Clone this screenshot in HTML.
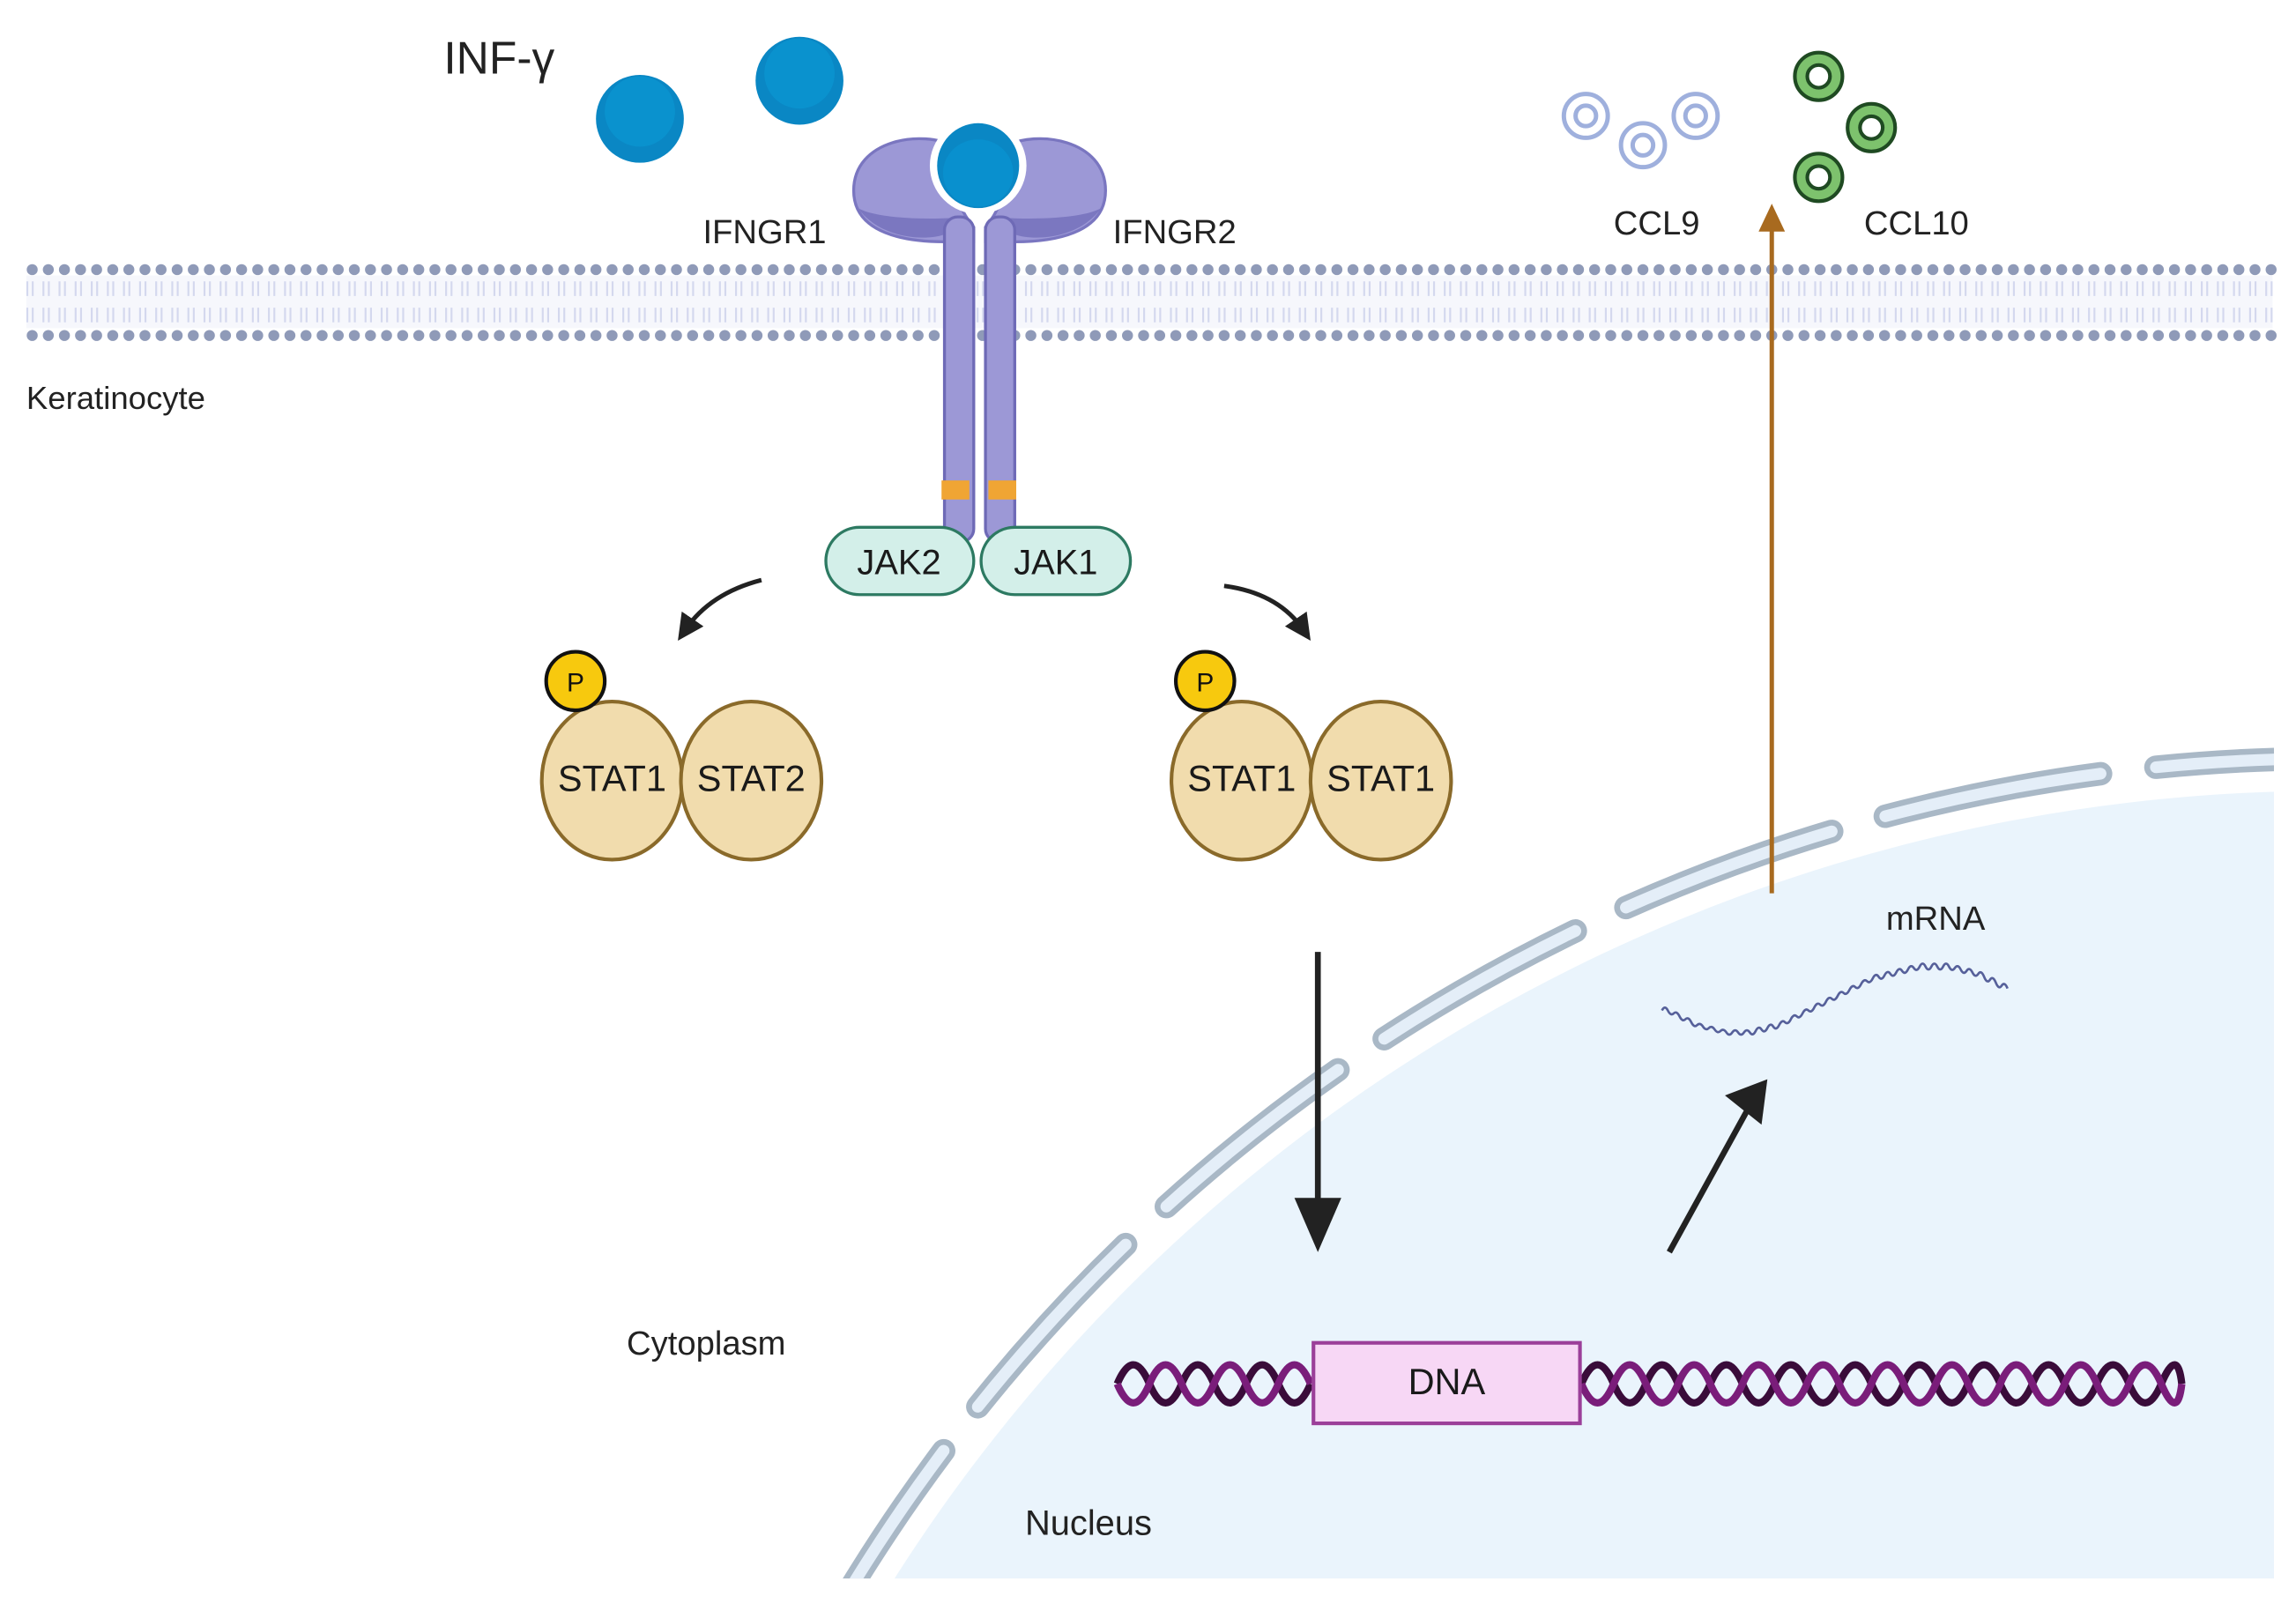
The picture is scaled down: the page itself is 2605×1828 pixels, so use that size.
<!DOCTYPE html>
<html><head><meta charset="utf-8"><style>
html,body{margin:0;padding:0;background:#fff;width:2605px;height:1828px;overflow:hidden;}
svg{display:block;}
text{font-family:"Liberation Sans",sans-serif;}
</style></head><body>
<svg width="2605" height="1828" viewBox="0 0 1568 1100" xmlns="http://www.w3.org/2000/svg">
<defs>
<clipPath id="nclip"><rect x="0" y="0" width="1553" height="1078"/></clipPath>
<marker id="ah" viewBox="0 0 10 10" refX="5" refY="5" markerWidth="6" markerHeight="6" orient="auto"><path d="M0,0 L10,5 L0,10 z" fill="#222"/></marker>
</defs>

<!-- Nucleus -->
<g clip-path="url(#nclip)">
<circle cx="1590" cy="1700" r="1160" fill="#eaf4fc"/>
<circle cx="1590" cy="1700" r="1182" fill="none" stroke="#a9b8c6" stroke-width="16" stroke-dasharray="150 38" stroke-linecap="round"/>
<circle cx="1590" cy="1700" r="1182" fill="none" stroke="#e4eef8" stroke-width="8" stroke-dasharray="150 38" stroke-linecap="round"/>
</g>
<rect x="1553" y="0" width="20" height="1100" fill="#fff"/>
<rect x="0" y="1078" width="1568" height="30" fill="#fff"/>

<!-- Membrane -->
<rect x="18" y="188" width="1534" height="36" fill="#f6f7fc"/>
<line x1="18" y1="197" x2="1552" y2="197" stroke="#d4d8ee" stroke-width="10" stroke-dasharray="1.3 2.4 1.3 6"/>
<line x1="18" y1="215" x2="1552" y2="215" stroke="#d4d8ee" stroke-width="10" stroke-dasharray="1.3 2.4 1.3 6"/>
<line x1="22" y1="184" x2="1552" y2="184" stroke="#8f9ab8" stroke-width="7.5" stroke-dasharray="0 11" stroke-linecap="round"/>
<line x1="22" y1="229" x2="1552" y2="229" stroke="#8f9ab8" stroke-width="7.5" stroke-dasharray="0 11" stroke-linecap="round"/>

<!-- Receptors -->
<path d="M583,130 C583,95 630,88 652,100 C650,110 648,135 665,155 L665,165 L645,165 C620,165 583,160 583,130 z" fill="#9c98d6" stroke="#7a76c0" stroke-width="2"/>
<path d="M755,130 C755,95 708,88 686,100 C688,110 690,135 673,155 L673,165 L693,165 C718,165 755,160 755,130 z" fill="#9c98d6" stroke="#7a76c0" stroke-width="2"/>
<path d="M586,142 C600,162 630,165 645,160 L660,160 L660,148 C640,150 600,150 586,142 z" fill="#7b77c0"/>
<path d="M752,142 C738,162 708,165 693,160 L678,160 L678,148 C698,150 738,150 752,142 z" fill="#7b77c0"/>
<rect x="645" y="148" width="20" height="222" rx="9" fill="#9c98d6" stroke="#6e6ab6" stroke-width="2"/>
<rect x="673" y="148" width="20" height="222" rx="9" fill="#9c98d6" stroke="#6e6ab6" stroke-width="2"/>
<rect x="643" y="328" width="19" height="13" fill="#f0a534"/>
<rect x="675" y="328" width="19" height="13" fill="#f0a534"/>
<circle cx="668" cy="113" r="33" fill="#fff"/>
<ellipse cx="668" cy="113" rx="28" ry="29" fill="#0a87c4"/>
<ellipse cx="668" cy="118" rx="24" ry="23" fill="#089ad8" opacity="0.5"/>

<!-- Free ligands -->
<circle cx="437" cy="81" r="30" fill="#0a87c4"/>
<circle cx="437" cy="76" r="24" fill="#0a9ad6" opacity="0.6"/>
<circle cx="546" cy="55" r="30" fill="#0a87c4"/>
<circle cx="546" cy="50" r="24" fill="#0a9ad6" opacity="0.6"/>

<!-- JAK -->
<rect x="564" y="360" width="101" height="46" rx="23" fill="#d3efe9" stroke="#2d7a62" stroke-width="2"/>
<rect x="670" y="360" width="102" height="46" rx="23" fill="#d3efe9" stroke="#2d7a62" stroke-width="2"/>
<text x="614" y="392" font-size="24" text-anchor="middle" fill="#1a1a1a">JAK2</text>
<text x="721" y="392" font-size="24" text-anchor="middle" fill="#1a1a1a">JAK1</text>

<!-- curved arrows -->
<path d="M520,396 Q485,405 468,430" fill="none" stroke="#222" stroke-width="3" marker-end="url(#ah)"/>
<path d="M836,400 Q873,405 890,430" fill="none" stroke="#222" stroke-width="3" marker-end="url(#ah)"/>

<!-- STAT dimers -->
<g stroke="#8a6a2a" stroke-width="2.5" fill="#f1dcad">
<ellipse cx="418" cy="533" rx="48" ry="54"/>
<ellipse cx="513" cy="533" rx="48" ry="54"/>
<ellipse cx="848" cy="533" rx="48" ry="54"/>
<ellipse cx="943" cy="533" rx="48" ry="54"/>
</g>
<g stroke="#111" stroke-width="2.5" fill="#f7c90e">
<circle cx="393" cy="465" r="20"/>
<circle cx="823" cy="465" r="20"/>
</g>
<g font-size="18" text-anchor="middle" fill="#111">
<text x="393" y="472">P</text><text x="823" y="472">P</text>
</g>
<g font-size="25" text-anchor="middle" fill="#1a1a1a">
<text x="418" y="540">STAT1</text><text x="513" y="540">STAT2</text>
<text x="848" y="540">STAT1</text><text x="943" y="540">STAT1</text>
</g>

<!-- straight arrows -->
<line x1="900" y1="650" x2="900" y2="820" stroke="#222" stroke-width="4"/>
<path d="M884,818 L916,818 L900,855 z" fill="#222"/>
<line x1="1140" y1="855" x2="1195" y2="755" stroke="#222" stroke-width="4"/>
<path d="M1178,748 L1207,737 L1203,768 z" fill="#222"/>
<line x1="1210" y1="610" x2="1210" y2="152" stroke="#a86a1f" stroke-width="3"/>
<path d="M1201,158 L1210,139 L1219,158 z" fill="#a86a1f"/>

<!-- mRNA -->
<g fill="none" stroke="#56609a" stroke-width="1.6">
<path d="M1135,690 q2,-4 4,0 t4,2 t4,2 t4,2 t4,2 t4,2 t4,1 t4,1 t4,1 t4,1 t4,1 t4,0 t4,0 t4,0 t4,0 t4,-1 t4,-1 t4,-1 t4,-1 t4,-1 t4,-2 t4,-2 t4,-2 t4,-2 t4,-2 t4,-2 t4,-2 t4,-2 t4,-2 t4,-2 t4,-2 t4,-2 t4,-2 t4,-2 t4,-2 t4,-2 t4,-1 t4,-1 t4,-1 t4,-1 t4,-1 t4,-1 t4,-1 t4,-1 t4,0 t4,0 t4,0 t4,0 t4,0 t4,1 t4,1 t4,1 t4,1 t4,1 t4,2 t4,2 t4,2 t4,2 t4,2"/>
</g>

<!-- DNA -->
<g fill="none" stroke-width="5">
<path stroke="#3a0c3a" d="M763,945 q11,-26 22,0 t22,0 t22,0 t22,0 t22,0 t22,0 M1080,945 q11,-26 22,0 t22,0 t22,0 t22,0 t22,0 t22,0 t22,0 t22,0 t22,0 t22,0 t22,0 t22,0 t22,0 t22,0 t22,0 t22,0 t22,0 t22,0 t14,0"/>
<path stroke="#7a1d7a" d="M763,945 q11,26 22,0 t22,0 t22,0 t22,0 t22,0 t22,0 M1080,945 q11,26 22,0 t22,0 t22,0 t22,0 t22,0 t22,0 t22,0 t22,0 t22,0 t22,0 t22,0 t22,0 t22,0 t22,0 t22,0 t22,0 t22,0 t22,0 t14,0"/>
</g>
<rect x="897" y="917" width="182" height="55" fill="#f7d7f5" stroke="#9b3f99" stroke-width="2.5"/>
<text x="988" y="952" font-size="25" text-anchor="middle" fill="#1a1a1a">DNA</text>

<!-- CCL9 -->
<g fill="none" stroke="#9fb0dd" stroke-width="3">
<circle cx="1083" cy="79" r="15"/><circle cx="1083" cy="79" r="7"/>
<circle cx="1122" cy="99" r="15"/><circle cx="1122" cy="99" r="7"/>
<circle cx="1158" cy="79" r="15"/><circle cx="1158" cy="79" r="7"/>
</g>
<!-- CCL10 -->
<g fill="none">
<g stroke="#1f4a22" stroke-width="11"><circle cx="1242" cy="52" r="12"/><circle cx="1278" cy="87" r="12"/><circle cx="1242" cy="121" r="12"/></g>
<g stroke="#7dc26d" stroke-width="6"><circle cx="1242" cy="52" r="12"/><circle cx="1278" cy="87" r="12"/><circle cx="1242" cy="121" r="12"/></g>
</g>

<!-- Labels -->
<g fill="#222">
<text x="303" y="50" font-size="31">INF-γ</text>
<text x="480" y="166" font-size="23">IFNGR1</text>
<text x="760" y="166" font-size="23">IFNGR2</text>
<text x="1102" y="160" font-size="23">CCL9</text>
<text x="1273" y="160" font-size="23">CCL10</text>
<text x="18" y="279" font-size="22">Keratinocyte</text>
<text x="1288" y="635" font-size="23">mRNA</text>
<text x="428" y="925" font-size="23">Cytoplasm</text>
<text x="700" y="1048" font-size="24">Nucleus</text>
</g>
</svg>
</body></html>
